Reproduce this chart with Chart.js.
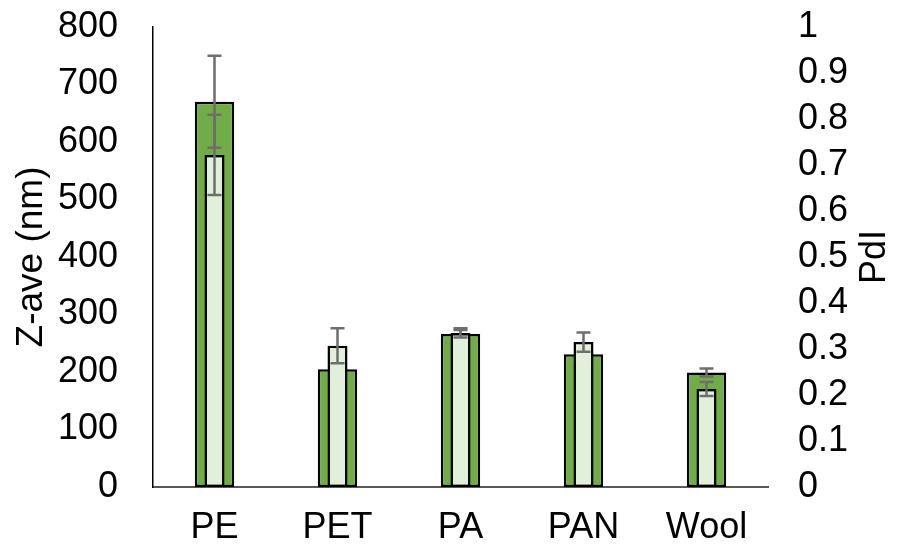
<!DOCTYPE html>
<html>
<head>
<meta charset="utf-8">
<script src="https://cdn.jsdelivr.net/npm/chart.js@4.4.0/dist/chart.umd.min.js"></script>
<style>
  html, body { margin: 0; padding: 0; background: #fff; }
  #wrap { width: 897px; height: 546px; position: relative; }
</style>
</head>
<body>
<div id="wrap"><canvas id="c" width="897" height="546"></canvas></div>
<script>
const categories = ['PE', 'PET', 'PA', 'PAN', 'Wool'];
const zAve = [670, 205, 266, 231, 199];
const zAveErr = [80, 12, 7, 10, 7];
const pdi = [0.722, 0.307, 0.335, 0.315, 0.213];
const pdiErr = [0.087, 0.038, 0.010, 0.021, 0.015];
const zTicks = [0, 100, 200, 300, 400, 500, 600, 700, 800];
const pdiTicks = [0, 0.1, 0.2, 0.3, 0.4, 0.5, 0.6, 0.7, 0.8, 0.9, 1];

const FONT = 'Liberation Sans, Arial, sans-serif';
const FS = 36;

const errorBarPlugin = {
  id: 'errorBars',
  afterDatasetDraw(chart, args) {
    const ds = chart.data.datasets[args.index];
    if (!ds.errors) return;
    const meta = args.meta;
    const yScale = chart.scales[ds.yAxisID];
    const ctx = chart.ctx;
    ctx.save();
    ctx.strokeStyle = '#6e6e6e';
    ctx.lineWidth = 2.5;
    meta.data.forEach((bar, i) => {
      const v = ds.data[i], e = ds.errors[i];
      const x = bar.x;
      const yTop = yScale.getPixelForValue(v + e);
      const yBot = yScale.getPixelForValue(v - e);
      ctx.beginPath();
      ctx.moveTo(x, yTop); ctx.lineTo(x, yBot);
      ctx.moveTo(x - 7, yTop); ctx.lineTo(x + 7, yTop);
      ctx.moveTo(x - 7, yBot); ctx.lineTo(x + 7, yBot);
      ctx.stroke();
    });
    ctx.restore();
  }
};

const rightTitlePlugin = {
  id: 'rightTitle',
  afterDraw(chart) {
    const ctx = chart.ctx;
    const s = chart.scales.y2;
    ctx.save();
    ctx.translate(875, (s.top + s.bottom) / 2);
    ctx.rotate(-Math.PI / 2);
    ctx.fillStyle = '#000';
    ctx.font = FS + 'px ' + FONT;
    ctx.textAlign = 'center';
    ctx.textBaseline = 'middle';
    ctx.fillText('PdI', 0, 0);
    ctx.restore();
  }
};

function fitVertical(width) {
  return function (s) {
    s.width = width;
    s.paddingTop = 0;
    s.paddingBottom = 0;
  };
}

new Chart(document.getElementById('c'), {
  type: 'bar',
  data: {
    labels: categories,
    datasets: [
      {
        label: 'Z-ave (nm)',
        data: zAve,
        errors: zAveErr,
        yAxisID: 'y',
        backgroundColor: '#70ad47',
        borderColor: '#000000',
        borderWidth: 2.5,
        borderSkipped: false,
        barPercentage: 0.32,
        categoryPercentage: 1,
        grouped: false,
        order: 2
      },
      {
        label: 'PdI',
        data: pdi,
        errors: pdiErr,
        yAxisID: 'y2',
        backgroundColor: '#e2efda',
        borderColor: '#000000',
        borderWidth: 2.5,
        borderSkipped: false,
        barPercentage: 0.163,
        categoryPercentage: 1,
        grouped: false,
        order: 1
      }
    ]
  },
  options: {
    responsive: false,
    animation: false,
    devicePixelRatio: 1,
    layout: { padding: { top: 27, left: 0, right: 0, bottom: 0 } },
    plugins: { legend: { display: false }, tooltip: { enabled: false } },
    scales: {
      x: {
        grid: { display: false, drawTicks: false },
        border: { display: true, color: '#595959', width: 2 },
        ticks: { color: '#000', font: { family: FONT, size: FS }, padding: 19, maxRotation: 0 },
        afterFit(s) { s.height = 59; }
      },
      y: {
        position: 'left',
        min: 0, max: 800,
        afterBuildTicks(s) { s.ticks = zTicks.map(v => ({ value: v })); },
        grid: { display: false, drawTicks: false },
        border: { display: true, color: '#000', width: 1.5 },
        ticks: { color: '#000', font: { family: FONT, size: FS }, padding: 35, autoSkip: false },
        title: { display: true, text: 'Z-ave (nm)', color: '#000', font: { family: FONT, size: 37 }, padding: { top: 10, bottom: 0 } },
        afterFit: fitVertical(153)
      },
      y2: {
        position: 'right',
        min: 0, max: 1,
        afterBuildTicks(s) { s.ticks = pdiTicks.map(v => ({ value: v })); },
        grid: { display: false, drawTicks: false },
        border: { display: false },
        ticks: { color: '#000', font: { family: FONT, size: FS }, padding: 30, autoSkip: false,
                 callback: (v) => String(v) },
        afterFit: fitVertical(129)
      }
    }
  },
  plugins: [errorBarPlugin, rightTitlePlugin]
});
</script>
</body>
</html>
